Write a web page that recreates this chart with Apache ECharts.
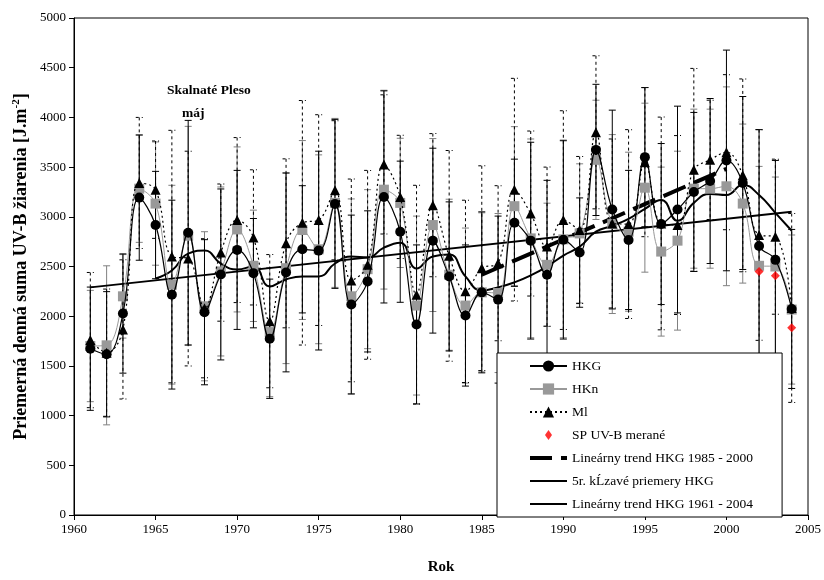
<!DOCTYPE html>
<html>
<head>
<meta charset="utf-8">
<script src="https://cdn.jsdelivr.net/npm/echarts@6/dist/echarts.min.js"></script>
<style>
  html, body { margin: 0; padding: 0; background: #fff; }
  #charts { width: 824px; height: 580px; }
</style>
</head>
<body>
<div id="charts"></div>
<script>
var years = [1961,1962,1963,1964,1965,1966,1967,1968,1969,1970,1971,1972,1973,1974,1975,1976,1977,1978,1979,1980,
             1981,1982,1983,1984,1985,1986,1987,1988,1989,1990,1991,1992,1993,1994,1995,1996,1997,1998,1999,2000,
             2001,2002,2003,2004];
var hkg = [1673,1617,2027,3193,2917,2217,2840,2040,2420,2667,2433,1773,2440,2673,2660,3130,2117,2350,3200,2850,
           1917,2760,2400,2007,2240,2167,2940,2760,2417,2770,2640,3673,3073,2767,3600,2927,3073,3250,3360,3567,
           3340,2707,2567,2073];
var hkn = [1700,1707,2200,3283,3133,2317,2810,2100,2450,2873,2507,1840,2483,2867,2673,3140,2200,2473,3273,3140,
           2107,2917,2417,2107,2240,2233,3107,2783,2517,2773,2833,3573,2927,2850,3293,2650,2760,3283,3283,3307,
           3133,2507,2500,2067];
var mi = [1760,1633,1867,3340,3273,2600,2580,2080,2640,2967,2793,1950,2733,2940,2967,3267,2360,2517,3527,3200,
          2217,3117,2607,2250,2483,2533,3273,3033,2700,2967,2867,3850,2933,2927,3550,2933,2917,3473,3573,3650,
          3417,2817,2800,2083];
// smerodajne odchylky (chybove useky)
var errHkg = [620,630,600,630,540,950,1130,730,860,800,550,600,1000,640,1000,850,900,710,1067,710,
              800,930,750,710,810,840,640,990,950,1000,550,660,1000,700,700,810,1040,800,830,1110,
              870,1170,1000,800];
var errHkn = [560,800,420,540,620,1000,1100,750,850,830,560,650,960,900,950,850,980,800,1000,650,
              900,870,760,780,800,800,800,1000,620,990,700,600,900,800,850,850,900,800,800,1000,
              800,1000,900,750];
var errMi = [680,640,700,660,490,1270,1080,700,690,830,680,670,850,1230,1060,700,1020,950,700,620,
             1100,720,1060,917,1030,780,1120,830,800,1100,740,770,850,950,750,1070,900,1020,600,780,
             970,1060,780,950];
var spYears = [2002,2003,2004];
var spVals = [2450,2407,1883];
var maYears = [1965,1966,1967,1968,1969,1970,1971,1972,1973,1974,1975,1976,1977,1978,1979,1980,1981,1982,1983,1984,
               1985,1986,1987,1988,1989,1990,1991,1992,1993,1994,1995,1996,1997,1998,1999,2000,2001,2002,2003,2004];
var maVals = [2380,2460,2630,2660,2530,2470,2500,2300,2370,2400,2400,2530,2600,2590,2690,2740,2480,2600,2620,2400,
              2260,2290,2340,2410,2500,2610,2700,2850,2910,2980,3080,3170,2960,3140,3230,3220,3320,3220,3040,2860];
var trendAllYears = [1961,2004];
var trendAllVals = [2290,3050];
var trend85Years = [1985,2000];
var trend85Vals = [2417,3483];

var FONT = 'Liberation Serif';
var myChart = echarts.init(document.getElementById('charts'));

function pairs(xs, ys) {
    var out = [];
    for (var i = 0; i < xs.length; i++) out.push([xs[i], ys[i]]);
    return out;
}
function triples(xs, ys, es) {
    var out = [];
    for (var i = 0; i < xs.length; i++) out.push([xs[i], ys[i], es[i]]);
    return out;
}
function errSeries(vals, errs, color, dash) {
    return {
        type: 'custom',
        silent: true,
        z: 1,
        data: triples(years, vals, errs),
        renderItem: function (params, api) {
            var x = api.value(0), v = api.value(1), e = api.value(2);
            var top = api.coord([x, v + e]);
            var bot = api.coord([x, v - e]);
            var st = { stroke: color, lineWidth: 1, lineDash: dash };
            var w = 3.5;
            return {
                type: 'group',
                children: [
                    { type: 'line', shape: { x1: top[0], y1: top[1], x2: bot[0], y2: bot[1] }, style: st },
                    { type: 'line', shape: { x1: top[0] - w, y1: top[1], x2: top[0] + w, y2: top[1] }, style: st },
                    { type: 'line', shape: { x1: bot[0] - w, y1: bot[1], x2: bot[0] + w, y2: bot[1] }, style: st }
                ]
            };
        }
    };
}

myChart.setOption({
    animation: false,
    backgroundColor: '#fff',
    textStyle: { fontFamily: FONT, color: '#000' },
    title: [
        { text: 'Skalnaté Pleso', left: 162, top: 79,
          textStyle: { fontFamily: FONT, fontSize: 13.5, fontWeight: 'bold', color: '#000' } },
        { text: 'máj', left: 177, top: 102,
          textStyle: { fontFamily: FONT, fontSize: 13.5, fontWeight: 'bold', color: '#000' } }
    ],
    grid: { left: 74, right: 16, top: 18, bottom: 60, show: true, borderColor: '#000', borderWidth: 1 },
    legend: {
        orient: 'vertical',
        left: 497, top: 353,
        padding: [6, 29, 6, 31],
        itemWidth: 37, itemHeight: 14, itemGap: 9,
        backgroundColor: '#fff',
        borderColor: '#000', borderWidth: 1,
        textStyle: { fontFamily: FONT, fontSize: 13.5, color: '#000' },
        data: [
            'HKG', 'HKn', 'Ml',
            { name: 'SP UV-B merané', icon: 'path://M0,0M16,20M8,3L13,10L8,17L3,10Z' },
            { name: 'Lineárny trend HKG 1985 - 2000', itemStyle: { opacity: 0 },
              lineStyle: { width: 4, type: [22, 9] } },
            { name: '5r. kĹzavé priemery HKG', itemStyle: { opacity: 0 } },
            { name: 'Lineárny trend HKG 1961 - 2004', itemStyle: { opacity: 0 } }
        ]
    },
    xAxis: {
        type: 'value', min: 1960, max: 2005, interval: 5,
        name: 'Rok', nameLocation: 'middle', nameGap: 45,
        nameTextStyle: { fontFamily: FONT, fontSize: 15, fontWeight: 'bold', color: '#000' },
        axisLine: { lineStyle: { color: '#000', width: 1 } },
        axisTick: { length: 5, lineStyle: { color: '#000' } },
        axisLabel: { fontFamily: FONT, fontSize: 13, color: '#000', margin: 8, formatter: function (v) { return String(v); } },
        splitLine: { show: false }
    },
    yAxis: {
        type: 'value', min: 0, max: 5000, interval: 500,
        name: '{a|Priemerná denná suma UV-B žiarenia [J.m}{s|-2}{a|]}',
        nameLocation: 'middle', nameGap: 43, nameMoveOverlap: false,
        nameTextStyle: {
            rich: {
                a: { fontFamily: FONT, fontSize: 18, fontWeight: 'bold', color: '#000' },
                s: { fontFamily: FONT, fontSize: 11, fontWeight: 'bold', color: '#000', verticalAlign: 'top', padding: [0, 0, 9, 0] }
            }
        },
        axisLine: { show: true, lineStyle: { color: '#000', width: 1 } },
        axisTick: { show: true, length: 5, lineStyle: { color: '#000' } },
        axisLabel: { fontFamily: FONT, fontSize: 13, color: '#000', margin: 8, formatter: function (v) { return String(v); } },
        splitLine: { show: false }
    },
    series: [
        errSeries(hkn, errHkn, '#808080', null),
        errSeries(hkg, errHkg, '#000', null),
        errSeries(mi, errMi, '#000', [3, 3]),
        {
            name: 'Lineárny trend HKG 1961 - 2004', type: 'line', z: 3,
            data: pairs(trendAllYears, trendAllVals), symbol: 'none',
            lineStyle: { color: '#000', width: 2 }, itemStyle: { color: '#000' }
        },
        {
            name: '5r. kĹzavé priemery HKG', type: 'line', z: 3, smooth: 0.5,
            data: pairs(maYears, maVals), symbol: 'none',
            lineStyle: { color: '#000', width: 2 }, itemStyle: { color: '#000' }
        },
        {
            name: 'Lineárny trend HKG 1985 - 2000', type: 'line', z: 3,
            data: pairs(trend85Years, trend85Vals), symbol: 'none',
            lineStyle: { color: '#000', width: 4, type: [24, 9] }, itemStyle: { color: '#000' }
        },
        {
            name: 'HKn', type: 'line', z: 4, smooth: 0.4,
            data: pairs(years, hkn), symbol: 'rect', symbolSize: 10,
            lineStyle: { color: '#999', width: 1 }, itemStyle: { color: '#999' }
        },
        {
            name: 'Ml', type: 'line', z: 5, smooth: 0.4,
            data: pairs(years, mi), symbol: 'triangle', symbolSize: 10,
            lineStyle: { color: '#000', width: 1.2, type: [2, 3] }, itemStyle: { color: '#000' }
        },
        {
            name: 'HKG', type: 'line', z: 6, smooth: 0.4,
            data: pairs(years, hkg), symbol: 'circle', symbolSize: 10,
            lineStyle: { color: '#000', width: 1.2 }, itemStyle: { color: '#000' }
        },
        {
            name: 'SP UV-B merané', type: 'scatter', z: 7,
            data: pairs(spYears, spVals), symbol: 'diamond', symbolSize: 9,
            itemStyle: { color: '#ff0000' }
        }
    ]
});
</script>
</body>
</html>
